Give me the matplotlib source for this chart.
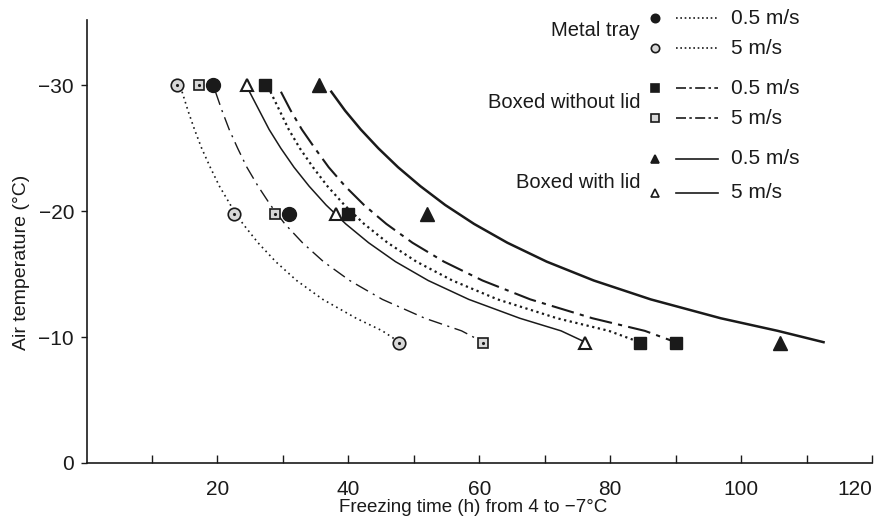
# Freezing time vs air temperature for different packagings / air speeds

import matplotlib.pyplot as plt
from matplotlib.lines import Line2D

plt.rcParams['font.family'] = ['Liberation Sans', 'DejaVu Sans']

# -----------------------
#      Data
# -----------------------

# measured points
metal_fast_x = [13.8, 22.6, 47.8]     # open circles (5 m/s)
metal_fast_y = [-30, -19.8, -9.5]
metal_slow_x = [19.4, 30.9]           # filled circles (0.5 m/s)
metal_slow_y = [-30, -19.8]
nolid_fast_x = [17.2, 28.8, 60.6]     # open squares
nolid_fast_y = [-30, -19.8, -9.5]
nolid_slow_x = [27.3, 40.0, 84.5, 90.0]   # filled squares
nolid_slow_y = [-30, -19.8, -9.5, -9.5]
lid_fast_x = [24.5, 38.1, 76.2]       # open triangles
lid_fast_y = [-30, -19.8, -9.5]
lid_slow_x = [35.5, 52.0, 105.9]      # filled triangles
lid_slow_y = [-30, -19.8, -9.5]

# fitted curves
curve_y = [-29.5, -28, -26.5, -25, -23.5, -22, -20.5, -19, -17.5, -16, -14.5, -13, -11.5, -10.5, -9.6]
curve_metal_fast = [14.6, 15.5, 16.5, 17.6, 18.9, 20.3, 22.0, 23.9, 26.2, 28.9, 32.1, 36.1, 41.2, 45.2, 47.8]
curve_nolid_fast = [19.7, 20.7, 21.8, 23.1, 24.5, 26.2, 28.1, 30.3, 33.0, 36.2, 40.2, 45.2, 51.7, 57.3, 60.6]
curve_lid_fast = [24.9, 26.4, 27.9, 29.7, 31.7, 34.0, 36.6, 39.6, 43.1, 47.2, 52.2, 58.4, 66.2, 72.5, 76.2]
curve_metal_slow = [28.1, 29.5, 30.9, 32.6, 34.6, 36.8, 39.4, 42.4, 46.0, 50.4, 55.9, 62.8, 71.9, 79.8, 84.5]
curve_nolid_slow = [29.7, 31.2, 32.9, 34.9, 37.0, 39.5, 42.4, 45.8, 49.8, 54.6, 60.5, 67.8, 77.3, 85.3, 90.0]
curve_lid_slow = [37.4, 39.5, 41.9, 44.6, 47.6, 51.0, 54.8, 59.2, 64.3, 70.3, 77.5, 86.2, 96.9, 105.6, 112.6]

x_ticks = [10, 20, 30, 40, 50, 60, 70, 80, 90, 100, 110, 120]
x_tick_labels = ['', '20', '', '40', '', '60', '', '80', '', '100', '', '120']
y_ticks = [0, -10, -20, -30]
y_tick_labels = ['0', '\u221210', '\u221220', '\u221230']

# -----------------------
#      Plot
# -----------------------

W, H = 882, 531
fig = plt.figure(figsize=(W / 100, H / 100), dpi=100)
ax = fig.add_axes([86.5 / W, (H - 463) / H, (872 - 86.5) / W, (463 - 20) / H])

ink = '#1a1a1a'
grey = '#d8d8d8'

ax.plot(curve_metal_fast, curve_y, color=ink, lw=1.2, ls=(0, (1, 2.2)))
ax.plot(curve_nolid_fast, curve_y, color=ink, lw=1.0, ls=(0, (10, 4, 1.5, 4)))
ax.plot(curve_lid_fast, curve_y, color=ink, lw=1.1)
ax.plot(curve_metal_slow, curve_y, color=ink, lw=1.6, ls=(0, (1, 1.6)))
ax.plot(curve_nolid_slow, curve_y, color=ink, lw=1.5, ls=(0, (11, 3, 2, 3)))
ax.plot(curve_lid_slow, curve_y, color=ink, lw=1.8)

ax.plot(metal_fast_x, metal_fast_y, 'o', ms=9, mfc=grey, mec=ink, mew=1.2)
ax.plot(metal_fast_x, metal_fast_y, '.', ms=2.5, color=ink)
ax.plot(metal_slow_x, metal_slow_y, 'o', ms=10, color=ink)
ax.plot(nolid_fast_x, nolid_fast_y, 's', ms=7.5, mfc=grey, mec=ink, mew=1.2)
ax.plot(nolid_fast_x, nolid_fast_y, '.', ms=2.5, color=ink)
ax.plot(nolid_slow_x, nolid_slow_y, 's', ms=8, color=ink)
ax.plot(lid_fast_x, lid_fast_y, '^', ms=9, mfc='white', mec=ink, mew=1.5)
ax.plot(lid_slow_x, lid_slow_y, '^', ms=9.5, color=ink)

ax.set_xlim(0, 120)
ax.set_ylim(0, -35.2)
ax.set_xticks(x_ticks)
ax.set_xticklabels(x_tick_labels)
ax.get_xticklabels()[-1].set_ha('right')
ax.set_yticks(y_ticks)
ax.set_yticklabels(y_tick_labels)
ax.tick_params(axis='x', direction='in', length=6, width=1, pad=12, labelsize=15, colors=ink)
ax.tick_params(axis='y', direction='out', length=4, width=1, pad=5, labelsize=15, colors=ink)
for s in ['top', 'right']:
    ax.spines[s].set_visible(False)
for s in ['left', 'bottom']:
    ax.spines[s].set_linewidth(1.2)
    ax.spines[s].set_color(ink)

# -----------------------
#      Axis titles and legend (hand placed)
# -----------------------

def fx(px):
    return px / W

def fy(py):
    return 1 - py / H

fig.text(fx(473), fy(507), 'Freezing time (h) from 4 to \u22127\u00b0C', fontsize=13.5,
         color=ink, ha='center', va='center')
fig.text(fx(22), fy(262), 'Air temperature (\u00b0C)', fontsize=14, color=ink,
         rotation=90, ha='center', va='center')

legend_rows = [
    (18, 'o', ink, ink, (0, (1, 1.6)), '0.5 m/s'),
    (48, 'o', grey, ink, (0, (1, 1.6)), '5 m/s'),
    (88, 's', ink, ink, (0, (6, 2, 1.5, 2)), '0.5 m/s'),
    (118, 's', grey, ink, (0, (6, 2, 1.5, 2)), '5 m/s'),
    (159, '^', ink, ink, '-', '0.5 m/s'),
    (193, '^', 'white', ink, '-', '5 m/s'),
]
for py, mk, fc, ec, ls, txt in legend_rows:
    fig.add_artist(Line2D([fx(655)], [fy(py)], marker=mk, ms=6, mfc=fc, mec=ec, mew=1.2, ls=''))
    fig.add_artist(Line2D([fx(676), fx(718)], [fy(py), fy(py)], color=ink, lw=1.2, ls=ls))
    fig.text(fx(731), fy(py), txt, fontsize=15, color=ink, va='center', ha='left')

group_labels = [(31, 'Metal tray'), (103, 'Boxed without lid'), (182, 'Boxed with lid')]
for py, txt in group_labels:
    fig.text(fx(640), fy(py), txt, fontsize=14.5, color=ink, va='center', ha='right')

fig.savefig('out.png', dpi=100)
